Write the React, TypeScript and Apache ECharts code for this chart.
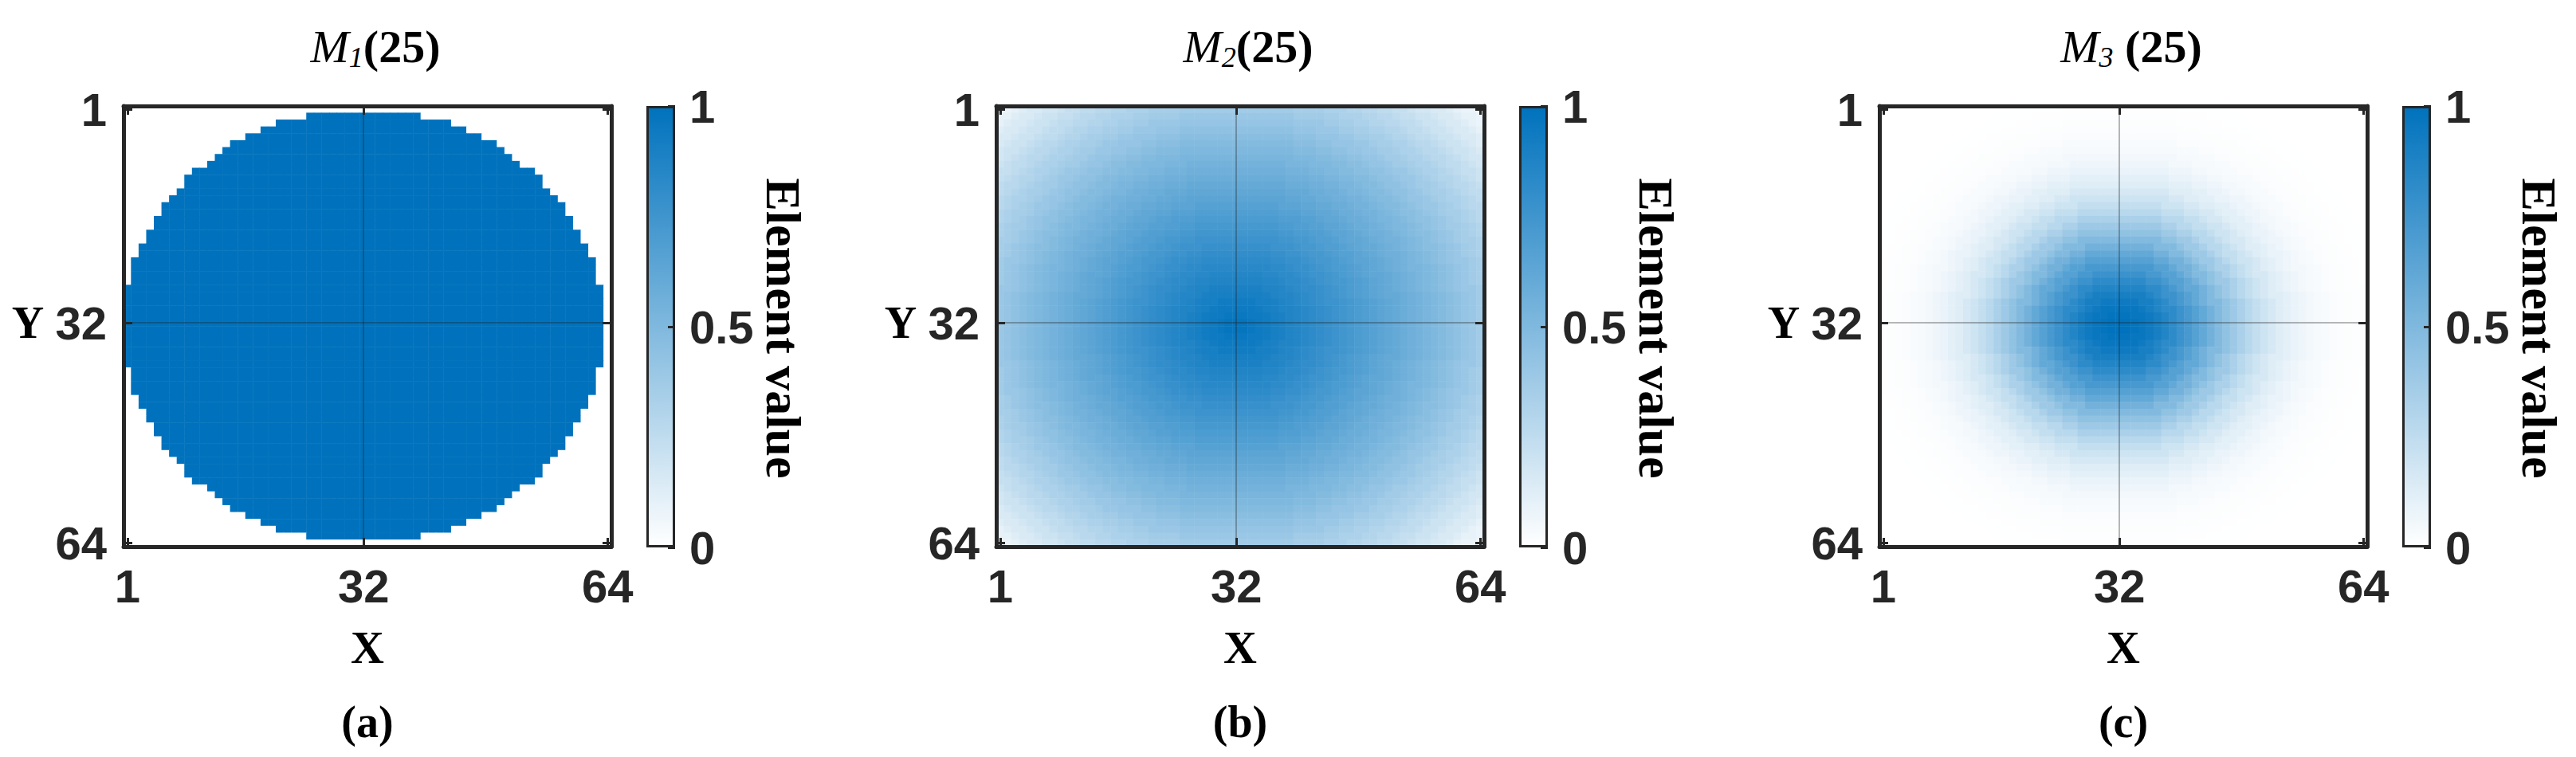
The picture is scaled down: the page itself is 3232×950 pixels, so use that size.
import React, { useEffect, useRef } from 'react';
import * as echarts from 'echarts';

// ---------------- data ----------------
const GRID_SIZE = 64;
const CELL_LABELS: string[] = Array.from({ length: GRID_SIZE }, (_, i) => String(i + 1));
const AXIS_TICK_LABELS = ['1', '32', '64'];
const GRIDLINE_LABEL = '32';
const COLORBAR_MIN = 0;
const COLORBAR_MAX = 1;
const COLORBAR_INTERVAL = 0.5;
const COLORMAP = ['#ffffff', '#0072bd'];

const PANEL_SUBSCRIPTS = ['1', '2', '3'];
const PANEL_PARAMS = ['(25)', '(25)', ' (25)'];
const PANEL_LETTERS = ['(a)', '(b)', '(c)'];
const X_NAME = 'X';
const Y_NAME = 'Y';
const COLORBAR_NAME = 'Element value';

// centre of the radial patterns (column, row)
const PATTERN_CENTER = [32, 32.5];

// element value versus distance (in cells, rounded) from the centre
const M1_PROFILE = [
  1, 1, 1, 1, 1, 1, 1, 1, 1, 1, 1, 1, 1, 1, 1, 1,
  1, 1, 1, 1, 1, 1, 1, 1, 1, 1, 1, 1, 1, 1, 1, 1,
  0, 0, 0, 0, 0, 0, 0, 0, 0, 0, 0, 0, 0, 0, 0,
];
const M2_PROFILE = [
  1.0, 0.98, 0.96, 0.945, 0.93, 0.91, 0.895, 0.875, 0.86, 0.84,
  0.82, 0.805, 0.785, 0.765, 0.745, 0.725, 0.705, 0.685, 0.665, 0.645,
  0.625, 0.605, 0.585, 0.565, 0.545, 0.525, 0.505, 0.485, 0.46, 0.44,
  0.415, 0.395, 0.37, 0.345, 0.325, 0.3, 0.275, 0.25, 0.225, 0.2,
  0.175, 0.15, 0.125, 0.1, 0.08, 0.06, 0.04,
];
const M3_PROFILE = [
  1.0, 0.995, 0.985, 0.965, 0.94, 0.905, 0.865, 0.82, 0.77, 0.72,
  0.665, 0.61, 0.55, 0.49, 0.435, 0.38, 0.33, 0.28, 0.235, 0.195,
  0.16, 0.13, 0.104, 0.082, 0.064, 0.049, 0.037, 0.028, 0.02, 0.014,
  0.01, 0.007, 0.005, 0.003, 0.002, 0.001, 0, 0, 0, 0,
  0, 0, 0, 0, 0, 0, 0,
];
const PROFILES = [M1_PROFILE, M2_PROFILE, M3_PROFILE];

function buildCells(profile: number[]): [number, number, number][] {
  const cells: [number, number, number][] = [];
  for (let r = 0; r < GRID_SIZE; r++) {
    for (let c = 0; c < GRID_SIZE; c++) {
      const d = Math.hypot(c + 1 - PATTERN_CENTER[0], r + 1 - PATTERN_CENTER[1]);
      const idx = Math.min(Math.round(d), profile.length - 1);
      cells.push([c, r, profile[idx]]);
    }
  }
  return cells;
}

// ---------------- layout ----------------
const W = 3232;
const H = 950;
const PANEL_LEFT = [155, 1250, 2358];
const PLOT_TOP = 133;
const PLOT_W = 612;
const PLOT_H = 553;
const CB_GAP = 44;
const CB_W = 36;
const CB_H = 554;

const SANS = "'Liberation Sans', Arial, sans-serif";
const SERIF = "'Liberation Serif', 'Times New Roman', serif";
const INK = '#262626';

const isTick = (_i: number, v: string) => AXIS_TICK_LABELS.includes(v);

export default function App() {
  const ref = useRef<HTMLDivElement>(null);

  useEffect(() => {
    document.body.style.margin = '0';
    if (!ref.current) return;
    const chart = echarts.init(ref.current, undefined, { renderer: 'svg' });

    const grids: any[] = [];
    const xAxes: any[] = [];
    const yAxes: any[] = [];
    const series: any[] = [];
    const visualMaps: any[] = [];
    const graphics: any[] = [];

    PANEL_LEFT.forEach((left, p) => {
      const plotGrid = p * 2;
      const cbGrid = p * 2 + 1;
      grids.push({ left, top: PLOT_TOP, width: PLOT_W, height: PLOT_H, containLabel: false });
      grids.push({ left: left + PLOT_W + CB_GAP, top: PLOT_TOP, width: CB_W, height: CB_H, containLabel: false });

      const axisLine = { show: true, lineStyle: { color: INK, width: 5 } };
      const axisTick = {
        show: true, inside: true, length: 11, alignWithLabel: true, interval: isTick,
        lineStyle: { color: INK, width: 3 },
      };
      const label = {
        interval: isTick, fontSize: 58, fontWeight: 'bold', fontFamily: SANS, color: INK,
      };

      const xBottom = xAxes.length;
      xAxes.push({
        gridIndex: plotGrid, type: 'category', data: CELL_LABELS, position: 'bottom', z: 5,
        axisLine, axisTick, axisLabel: { ...label, margin: 20 }, splitLine: { show: false },
      });
      xAxes.push({
        gridIndex: plotGrid, type: 'category', data: CELL_LABELS, position: 'top', z: 5,
        axisLine, axisTick, axisLabel: { show: false }, splitLine: { show: false },
      });
      const yLeft = yAxes.length;
      yAxes.push({
        gridIndex: plotGrid, type: 'category', data: CELL_LABELS, inverse: true, position: 'left', z: 5,
        axisLine, axisTick, axisLabel: { ...label, margin: 21 }, splitLine: { show: false },
      });
      yAxes.push({
        gridIndex: plotGrid, type: 'category', data: CELL_LABELS, inverse: true, position: 'right', z: 5,
        axisLine, axisTick, axisLabel: { show: false }, splitLine: { show: false },
      });

      // colorbar axes
      const xCb = xAxes.length;
      xAxes.push({ gridIndex: cbGrid, type: 'category', data: [COLORBAR_NAME], show: false });
      const yCb = yAxes.length;
      yAxes.push({
        gridIndex: cbGrid, type: 'value', min: COLORBAR_MIN, max: COLORBAR_MAX, interval: COLORBAR_INTERVAL,
        position: 'right', z: 5,
        axisLine: { show: false },
        axisTick: { show: true, inside: true, length: 9, lineStyle: { color: INK, width: 3 } },
        axisLabel: { fontSize: 58, fontWeight: 'bold', fontFamily: SANS, color: INK, margin: 18 },
        splitLine: { show: false },
      });

      const heatIndex = series.length;
      series.push({
        type: 'heatmap',
        xAxisIndex: xBottom,
        yAxisIndex: yLeft,
        data: buildCells(PROFILES[p]),
        progressive: 0,
        silent: true,
        markLine: {
          silent: true,
          symbol: ['none', 'none'],
          label: { show: false },
          lineStyle: { color: 'rgba(30,30,30,0.32)', width: 2, type: 'solid' },
          data: [{ xAxis: GRIDLINE_LABEL }, { yAxis: GRIDLINE_LABEL }],
        },
      });
      series.push({
        type: 'bar',
        xAxisIndex: xCb,
        yAxisIndex: yCb,
        data: [COLORBAR_MAX],
        barWidth: '100%',
        silent: true,
        itemStyle: {
          color: new echarts.graphic.LinearGradient(0, 1, 0, 0, [
            { offset: 0, color: COLORMAP[0] },
            { offset: 1, color: COLORMAP[1] },
          ]),
          borderColor: INK,
          borderWidth: 3,
        },
      });
      visualMaps.push({
        type: 'continuous', show: false, seriesIndex: heatIndex,
        min: COLORBAR_MIN, max: COLORBAR_MAX, inRange: { color: COLORMAP },
      });

      const cx = left + PLOT_W / 2;
      graphics.push({
        type: 'text', x: cx + 10, y: 58, silent: true,
        style: {
          text: `{m|M}{s|${PANEL_SUBSCRIPTS[p]}}{p|${PANEL_PARAMS[p]}}`,
          align: 'center', verticalAlign: 'middle',
          rich: {
            m: { fontFamily: SERIF, fontStyle: 'italic', fontSize: 58, lineHeight: 64, fill: '#000' },
            s: { fontFamily: SERIF, fontStyle: 'italic', fontSize: 36, lineHeight: 36, verticalAlign: 'bottom', fill: '#000' },
            p: { fontFamily: SERIF, fontWeight: 'bold', fontSize: 58, lineHeight: 64, fill: '#000' },
          },
        },
      });
      graphics.push({
        type: 'text', x: left - 120, y: PLOT_TOP + PLOT_H * (31.5 / 64), silent: true,
        style: { text: Y_NAME, fontFamily: SERIF, fontWeight: 'bold', fontSize: 56, fill: '#000', align: 'center', verticalAlign: 'middle' },
      });
      graphics.push({
        type: 'text', x: cx, y: 812, silent: true,
        style: { text: X_NAME, fontFamily: SERIF, fontWeight: 'bold', fontSize: 58, fill: '#000', align: 'center', verticalAlign: 'middle' },
      });
      graphics.push({
        type: 'text', x: cx, y: 906, silent: true,
        style: { text: PANEL_LETTERS[p], fontFamily: SERIF, fontWeight: 'bold', fontSize: 56, fill: '#000', align: 'center', verticalAlign: 'middle' },
      });
      graphics.push({
        type: 'text', x: left + PLOT_W + CB_GAP + CB_W + 136, y: 412, rotation: -Math.PI / 2, silent: true,
        style: { text: COLORBAR_NAME, fontFamily: SERIF, fontWeight: 'bold', fontSize: 62, fill: '#000', align: 'center', verticalAlign: 'middle' },
      });
    });

    chart.setOption({
      animation: false,
      backgroundColor: '#ffffff',
      grid: grids,
      xAxis: xAxes,
      yAxis: yAxes,
      visualMap: visualMaps,
      series,
      graphic: graphics,
    });

    return () => chart.dispose();
  }, []);

  return <div ref={ref} style={{ width: W, height: H }} />;
}
